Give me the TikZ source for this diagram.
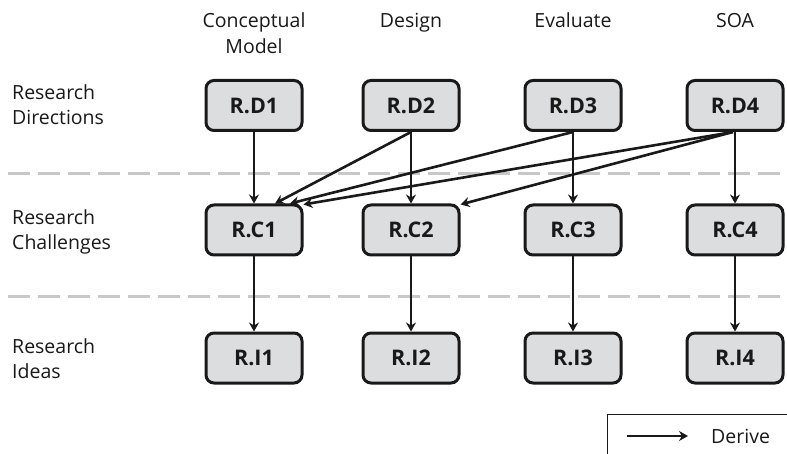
\documentclass[tikz,border=0pt]{standalone}
\usepackage{fontspec}
\setmainfont{Open Sans}
\usetikzlibrary{arrows.meta}
\definecolor{boxfill}{RGB}{220,221,223}
\definecolor{sepline}{RGB}{200,200,200}
\definecolor{ink}{RGB}{25,25,25}
\tikzset{
  stage/.style={draw=ink, line width=3pt, rounded corners=8pt, fill=boxfill,
    minimum width=96pt, minimum height=50pt, inner sep=0pt,
    font=\fontsize{21.5}{24}\selectfont\bfseries, text=ink},
  derive/.style={draw=ink, line width=2.6pt,
    -{Stealth[length=9pt, width=10pt, inset=3pt]}},
  rowlabel/.style={anchor=base west, align=left, inner sep=0pt, text=ink,
    font=\fontsize{19.5}{25}\selectfont},
  collabel/.style={anchor=base, align=center, inner sep=0pt, text=ink,
    font=\fontsize{19.5}{26}\selectfont},
  separator/.style={draw=sepline, line width=3pt, dash pattern=on 22pt off 8pt}
}
\begin{document}
\begin{tikzpicture}[x=1pt, y=-1pt]
  \useasboundingbox (0,0) rectangle (787,454);

  % column headings (base anchor sits on the last line)
  \node[collabel] (hConcept) at (254,54) {Conceptual\\Model};
  \node[collabel] (hDesign)  at (411,28) {Design};
  \node[collabel] (hEval)    at (573,28) {Evaluate};
  \node[collabel] (hSOA)     at (735,28) {SOA};

  % row headings
  \node[rowlabel] (lDir)  at (12,125) {Research\\Directions};
  \node[rowlabel] (lChal) at (12,250) {Research\\Challenges};
  \node[rowlabel] (lIdea) at (12,378) {Research\\Ideas};

  % separators between the rows
  \draw[separator] (8,174) -- (787,174);
  \draw[separator] (8,297) -- (787,297);

  % boxes
  \node[stage] (D1) at (254,105.5) {R.D1};
  \node[stage] (D2) at (411,105.5) {R.D2};
  \node[stage] (D3) at (573,105.5) {R.D3};
  \node[stage] (D4) at (735,105.5) {R.D4};
  \node[stage] (C1) at (254,230) {R.C1};
  \node[stage] (C2) at (411,230) {R.C2};
  \node[stage] (C3) at (573,230) {R.C3};
  \node[stage] (C4) at (735,230) {R.C4};
  \node[stage] (I1) at (254,358) {R.I1};
  \node[stage] (I2) at (411,358) {R.I2};
  \node[stage] (I3) at (573,358) {R.I3};
  \node[stage] (I4) at (735,358) {R.I4};

  % directions to challenges
  \draw[derive] (D1.south) -- (C1.north);
  \draw[derive] (D2.south) -- (C2.north);
  \draw[derive] (D3.south) -- (C3.north);
  \draw[derive] (D4.south) -- (C4.north);
  \draw[derive] (D2.south) -- ([xshift=21pt]C1.north);
  \draw[derive] (D3.south) -- ([xshift=36pt]C1.north);
  \draw[derive] ([xshift=-2pt]D4.south) -- ([yshift=-1pt]C1.north east);
  \draw[derive] ([xshift=-2pt]D4.south) -- ([yshift=-1pt]C2.north east);

  % challenges to ideas
  \draw[derive] (C1.south) -- (I1.north);
  \draw[derive] (C2.south) -- (I2.north);
  \draw[derive] (C3.south) -- (I3.north);
  \draw[derive] (C4.south) -- (I4.north);

  % legend
  \coordinate (legTop) at (607,414);
  \draw[draw=ink, line width=1pt] (787,414) -- (legTop) -- (607,454);
  \coordinate (legA) at (627,436);
  \coordinate (legB) at (688,436);
  \draw[derive] (legA) -- (legB);
  \node[anchor=west, inner sep=0pt, text=ink, font=\fontsize{19.5}{22}\selectfont] (legText) at (711,436) {Derive};
\end{tikzpicture}
\end{document}
